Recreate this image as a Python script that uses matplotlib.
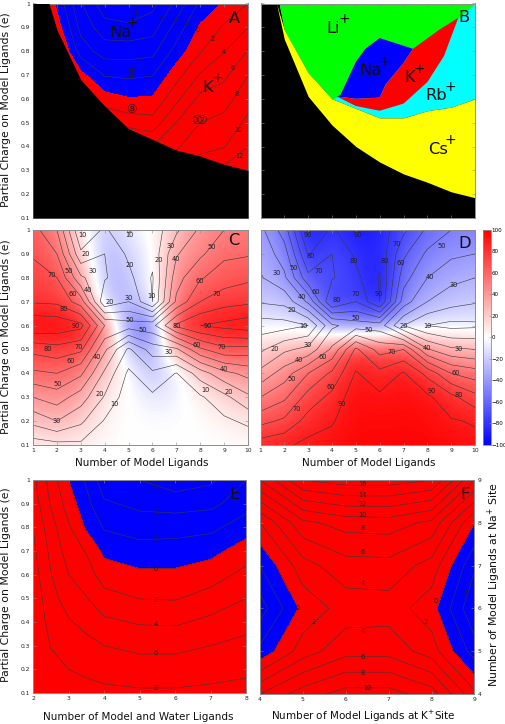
import numpy as np
import matplotlib
matplotlib.use('Agg')
import matplotlib.pyplot as plt

plt.rcParams['font.family'] = ['DejaVu Sans']
plt.rcParams['mathtext.default'] = 'regular'

W, H = 506, 724

ligands = [1, 2, 3, 4, 5, 6, 7, 8, 9, 10]
charges = [0.1, 0.2, 0.3, 0.4, 0.5, 0.6, 0.7, 0.8, 0.9, 1.0]
total_ticks = [2, 3, 4, 5, 6, 7, 8]
total_ligands = [2, 2.5, 3, 3.5, 4, 5, 6, 7, 8]
k_site = [4, 5, 6, 7, 8, 9]
na_site = [4, 5, 6, 7, 8, 9]

# panel A, free energy (rows = charge, columns = ligands)
a_vals = [
    [8, 9, 10, 11, 12, 13, 14, 16, 18, 18],
    [8, 9, 10, 11, 11, 11, 12, 14, 15, 16],
    [8, 9, 10, 10, 10, 10, 10, 11, 12.5, 14],
    [8, 9, 10, 9, 7, 6, 7.7, 9.5, 9.9, 12],
    [8, 9, 8, 4, 3.2, 2.8, 6, 8, 8.6, 10.5],
    [8, 8, 3.5, 0.9, 0.15, 0.25, 3.5, 6.6, 7.2, 9.2],
    [8, 6, 0.6, -2.15, -2.4, -2.1, 1.2, 4.2, 5.5, 8],
    [7, 3, -3, -4.9, -4.9, -4.6, -1.25, 1.85, 3.9, 6.1],
    [6, 1, -4.6, -7.2, -7.5, -6.9, -3.2, 0.3, 2.3, 4],
    [5, -0.5, -5.8, -9.3, -10, -8.6, -5.5, -1.6, 0.2, 2],
]
a_edge_x = [1, 1.67, 2, 3, 4, 5, 6, 7, 8, 9, 10]
a_edge_y = [1.0, 1.0, 0.89, 0.68, 0.57, 0.475, 0.43, 0.385, 0.36, 0.325, 0.30]
a_levels = [-8, -6, -4, -2, 2, 4, 6, 8, 10, 12]

# panel B, regions of selectivity
b_edge_x = [1, 1.67, 2, 3, 4, 5, 6, 7, 8, 9, 10]
b_edge_y = [1.0, 1.0, 0.85, 0.61, 0.49, 0.40, 0.335, 0.285, 0.25, 0.21, 0.185]
cs_x = [1, 1.78, 2, 3, 4, 5, 6, 7, 8, 9, 10]
cs_y = [1.0, 1.0, 0.89, 0.71, 0.60, 0.56, 0.52, 0.52, 0.55, 0.565, 0.60]
li_x = [1.78, 2, 3, 4, 4.35, 5, 5.4, 6, 7.4, 8.5, 9.3, 10]
li_y = [1.0, 0.89, 0.71, 0.60, 0.615, 0.755, 0.81, 0.855, 0.81, 0.89, 0.94, 1.0]
na_x = [4.35, 5, 5.4, 6, 7.4, 7, 6.25, 6, 5, 4.2]
na_y = [0.615, 0.755, 0.81, 0.855, 0.81, 0.75, 0.66, 0.605, 0.60, 0.61]
k_x = [4.2, 5, 6, 6.25, 7, 7.4, 8.5, 9.3, 8.7, 8, 7, 6, 5]
k_y = [0.61, 0.60, 0.605, 0.66, 0.75, 0.81, 0.89, 0.94, 0.78, 0.67, 0.58, 0.55, 0.57]

# panel C, colour values and contour values
c_colour = [
    [6, 8, 5, 2, 0, 0, 0, 0, 0, 2],
    [23, 30, 20, 5, 0, -1, -1, 1, 6, 10],
    [40, 45, 34, 8, 1, -10, -5, 6, 15, 25],
    [58, 60, 52, 20, 0, -25, -8, 22, 37, 43],
    [73, 76, 72, 38, -20, -40, 35, 58, 67, 66],
    [98, 97, 93, 58, -55, -55, 80, 90, 93, 96],
    [79, 78, 60, -22, -30, -10, 52, 70, 76, 78],
    [74, 70, 40, -30, -23, -3, 45, 59, 65, 68],
    [69, 60, 20, -30, -18, -3, 38, 48, 58, 59],
    [64, 50, 8, -24, -8, 2, 25, 42, 50, 52],
]
c_lines = [
    [5, 7, 8, 5, 2, 2, 1, 1, 1, 3],
    [23, 30, 22, 9, 3, 4, 3, 3, 8, 12],
    [40, 45, 35, 19, 4, 8, 7, 8.5, 17, 28],
    [58, 60, 52, 28, 8, 18, 9.5, 25, 37, 43],
    [73, 76, 72, 42, 18, 35, 38, 58, 67, 66],
    [98, 97, 93, 60, 55, 57, 82, 90, 93, 96],
    [79, 78, 65, 22, 30, 10, 52, 70, 76, 78],
    [74, 70, 42, 31, 23, 9, 46, 59, 65, 68],
    [69, 60, 22, 30, 18, 13, 39, 48, 58, 59],
    [64, 50, 10, 22, 9, 14, 28, 42, 50, 52],
]

# panel D, contour values, colour takes the sign of the charge region
d_lines = [
    [85, 88, 93, 94, 98, 98, 98, 98, 96, 93],
    [67, 72, 84, 89, 97, 96, 97, 96, 91, 89],
    [50, 58, 74, 83, 96, 92, 95, 92, 83, 73],
    [33, 45, 60, 72, 91, 83, 91, 77, 60, 55],
    [18, 28, 33, 52, 82, 66, 70, 41, 32, 30],
    [5, 6, 10, 38, 45, 45, 20, 10, 7, 8],
    [21, 23, 42, 80, 70, 90, 45, 30, 24, 21],
    [29, 38, 67, 69, 77, 91, 54, 40, 33, 30],
    [33, 45, 81, 70, 82, 87, 62, 48, 42, 40],
    [37, 55, 92, 78, 91, 86, 72, 58, 50, 49],
]

# panel E (rows = charge, columns = total ligands)
e_vals = [
    [12, 9.6, 9, 8.7, 8.5, 8.3, 8.3, 8.5, 8.7],
    [11, 8.8, 8, 7.6, 7.2, 6.9, 6.9, 7.2, 7.6],
    [10.3, 7.9, 7.1, 6.6, 6, 5.5, 5.5, 6, 6.6],
    [9.8, 7.2, 6.2, 5.4, 4.4, 3.8, 3.7, 4.5, 5.3],
    [9.4, 6.7, 5.1, 4.1, 2.7, 1.95, 1.85, 2.8, 4],
    [9, 6.1, 4, 2.95, 1.1, 0.4, 0.4, 1.1, 2.6],
    [8.5, 5.5, 3.1, 1.85, -0.5, -1.2, -1.1, -0.6, 1],
    [8, 4.8, 2.3, -0.3, -2.2, -2.9, -2.8, -2.5, -0.9],
    [7.2, 3.8, 1.1, -1.4, -3.7, -4.5, -4.8, -4.5, -2.8],
    [6.5, 3.2, 0, -2.3, -5.2, -6, -7.2, -6.4, -4],
]
e_levels = [-6, -4, -2, 0, 2, 4, 6, 8]

# panel F (rows = Na site, columns = K site)
f_vals = [
    [6, 9, 10.8, 10.8, 9, 2.5],
    [-1.5, 3, 5.3, 5.3, 3, -3],
    [-5, 0.6, 2.9, 3.07, 0.85, -5.8],
    [-2, 3.2, 5.2, 5.3, 3.2, -3.7],
    [2, 7.5, 8.8, 9, 7.5, 0],
    [10, 16, 17, 17, 16, 8],
]
f_levels = [-4, -2, 0, 2, 4, 6, 8, 10, 12, 14, 16]

cbar_ticks = [-100, -80, -60, -40, -20, 0, 20, 40, 60, 80, 100]

a_labels = [(5.28, .96, '8'), (6.37, .94, '6'), (6.96, .93, '4'), (7.42, .92, '2'),
            (7.9, .89, '0'), (8.5, .85, '2'), (9.0, .795, '4'), (9.36, .73, '6'),
            (9.53, .62, '8'), (9.6, .47, '10'), (9.65, .36, '12')]
c_labels = [(3.05, .98, '10'), (5.05, .98, '10'), (6.75, .935, '30'), (8.5, .93, '50'),
            (3.2, .9, '20'), (7, .88, '40'), (5.05, .855, '20'), (6.25, .875, '20'),
            (1.8, .81, '70'), (2.5, .83, '50'), (3.5, .83, '30'), (8, .785, '60'),
            (2.65, .73, '60'), (3.3, .75, '40'), (8.7, .73, '70'), (4.2, .7, '20'),
            (5, .715, '30'), (5.95, .725, '10'), (2.3, .67, '80'), (2.8, .6, '90'),
            (5.05, .625, '50'), (7, .6, '80'), (8.3, .6, '90'), (5.6, .58, '50'),
            (7.87, .52, '60'), (1.6, .5, '80'), (2.9, .51, '70'), (8.9, .51, '70'),
            (6.7, .49, '30'), (2.6, .45, '60'), (3.67, .47, '40'), (9, .42, '40'),
            (2.05, .355, '50'), (8.2, .33, '10'), (9.2, .32, '20'), (3.8, .315, '20'),
            (4.4, .27, '10'), (2, .2, '30')]
d_labels = [(3, .98, '90'), (5.1, .98, '90'), (6.7, .94, '70'), (8.6, .935, '50'),
            (3.1, .89, '80'), (4.9, .87, '80'), (6.2, .87, '80'), (6.9, .86, '60'),
            (2.4, .84, '50'), (1.7, .82, '30'), (3.45, .83, '70'), (8.1, .805, '40'),
            (9.1, .77, '30'), (3.3, .74, '60'), (2.75, .72, '40'), (4.2, .705, '80'),
            (5, .73, '70'), (5.95, .73, '90'), (2.3, .665, '20'), (2.8, .6, '10'),
            (5, .63, '50'), (7, .6, '20'), (8, .6, '10'), (5.55, .58, '50'),
            (3, .52, '30'), (6.5, .49, '70'), (8, .507, '40'), (9.3, .5, '30'),
            (1.6, .5, '20'), (3.6, .47, '60'), (2.6, .457, '40'), (9.2, .4, '60'),
            (2.3, .375, '50'), (3.95, .343, '60'), (8.2, .327, '90'), (9.3, .31, '80'),
            (2.5, .252, '70'), (4.4, .27, '90')]
e_labels = [(5.45, .97, '6'), (5.45, .86, '4'), (5.45, .75, '2'), (5.45, .625, '0'),
            (5.45, .495, '2'), (5.45, .39, '4'), (5.45, .27, '6'), (5.45, .12, '8')]
f_labels = [(6.4, 8.9, '16'), (6.4, 8.66, '14'), (6.4, 8.43, '12'), (6.4, 8.18, '10'),
            (6.4, 7.87, '8'), (6.4, 7.32, '6'), (6.4, 6.6, '4'), (6.4, 5.47, '4'),
            (6.4, 4.87, '6'), (6.4, 4.5, '8'), (6.5, 4.14, '10'), (4.45, 6, '2'),
            (4.88, 6, '0'), (5.25, 5.68, '2'), (7.85, 5.68, '2'), (8.1, 6.18, '0'),
            (8.55, 5.55, '2'), (8.8, 6.35, '4')]

BLUE = '#0000ff'
RED = '#ff0000'
LINE = '#383838'
EDGE = '#8c8c8c'
LW = 0.4


def panel(left, top, right, bottom):
    ax = fig.add_axes([left / W, 1 - bottom / H, (right - left) / W, (bottom - top) / H])
    for s in ax.spines.values():
        s.set_color(EDGE)
        s.set_linewidth(0.7)
    ax.tick_params(direction='in', length=2, width=0.4, color=EDGE, labelsize=4.3,
                   pad=2, top=True, right=True, labelcolor='#222222')
    return ax


def marks(ax, labels, size=4.8):
    for x, y, s in labels:
        ax.text(x, y, s, fontsize=size, ha='center', va='center', color='#202020')


def charge_ticks(ax, numbers=True):
    ax.set_yticks(charges)
    if numbers:
        ax.set_yticklabels(['%g' % c for c in charges])
    else:
        ax.set_yticklabels([])


def letter(ax, x, y, s):
    ax.text(x, y, s, fontsize=11.7, ha='center', va='center', color='#101010')


# ion name ends at x, its plus sign sits up and to the right
def ion(ax, x, y, s, dx=2.5):
    ax.text(x, y, s, fontsize=11.7, ha='right', va='center', color='#101010')
    ax.annotate('+', (x, y), xytext=(dx, 6.5), textcoords='offset points', fontsize=10,
                ha='center', va='center', color='#101010')


def smooth(ax, values):
    return ax.imshow(values, cmap='bwr', vmin=-100, vmax=100, origin='lower', aspect='auto',
                     interpolation='bicubic', extent=(0.5, 10.5, 0.05, 1.05))


fig = plt.figure(figsize=(W / 100, H / 100), dpi=100)
lig_x, q_y = np.meshgrid(ligands, charges)

# A
ax = panel(33, 3.5, 248, 218)
ax.contourf(lig_x, q_y, a_vals, levels=[-100, 0, 100], colors=[BLUE, RED])
ax.contour(lig_x, q_y, a_vals, levels=a_levels, colors=LINE, linewidths=LW, linestyles='solid')
ax.fill_between(a_edge_x, a_edge_y, 0.1, color='black', lw=0, zorder=3)
ax.set_xlim(1, 10)
ax.set_ylim(0.1, 1)
ax.set_xticks(ligands)
ax.set_xticklabels([])
charge_ticks(ax)
marks(ax, a_labels)
ax.text(5.07, .705, '②', fontsize=8.5, ha='center', va='center', color='#202020')
ax.text(5.1, .557, '⑧', fontsize=8.5, ha='center', va='center', color='#202020')
ax.text(7.85, .51, '①', fontsize=8.5, ha='center', va='center', color='#202020')
ax.text(8.06, .51, '⑦', fontsize=8.5, ha='center', va='center', color='#202020')
ion(ax, 5.13, .879, 'Na', 0.8)
ion(ax, 8.55, .648, 'K')
letter(ax, 9.45, .939, 'A')

# B
ax = panel(260.5, 3.5, 475, 218)
ax.set_facecolor('black')
ax.fill_between(cs_x, cs_y, 1, color='#00ffff', lw=0)
ax.fill_between(b_edge_x, b_edge_y, cs_y, color='#ffff00', lw=0)
ax.fill_between(li_x, li_y, 1, color='#00ff00', lw=0)
ax.fill(na_x, na_y, color=BLUE, lw=0)
ax.fill(k_x, k_y, color=RED, lw=0)
ax.set_xlim(1, 10)
ax.set_ylim(0.1, 1)
ax.set_xticks(ligands)
ax.set_xticklabels([])
charge_ticks(ax, False)
ion(ax, 4.35, .896, 'Li')
ion(ax, 6.07, .718, 'Na')
ion(ax, 7.5, .689, 'K')
ion(ax, 8.83, .612, 'Rb')
ion(ax, 8.87, .388, 'Cs', 1.5)
letter(ax, 9.53, .943, 'B')

# C
ax = panel(33, 230, 248, 445)
smooth(ax, np.array(c_colour, dtype=float))
ax.contour(lig_x, q_y, c_lines, levels=np.arange(10, 100, 10), colors=LINE, linewidths=LW,
           linestyles='solid')
ax.set_xlim(1, 10)
ax.set_ylim(0.1, 1)
ax.set_xticks(ligands)
charge_ticks(ax)
marks(ax, c_labels)
letter(ax, 9.42, .954, 'C')

# D
ax = panel(260.5, 230, 475, 445)
d_arr = np.array(d_lines, dtype=float)
d_colour = np.where(q_y >= 0.6, -d_arr, d_arr)
mesh = smooth(ax, d_colour)
ax.contour(lig_x, q_y, d_arr, levels=np.arange(10, 100, 10), colors=LINE, linewidths=LW,
           linestyles='solid')
ax.set_xlim(1, 10)
ax.set_ylim(0.1, 1)
ax.set_xticks(ligands)
charge_ticks(ax, False)
marks(ax, d_labels)
letter(ax, 9.58, .945, 'D')

cax = fig.add_axes([483.5 / W, 1 - 445 / H, 7.5 / W, 215 / H])
cb = fig.colorbar(mesh, cax=cax, ticks=cbar_ticks)
cb.outline.set_edgecolor(EDGE)
cb.outline.set_linewidth(0.6)
cb.ax.tick_params(length=1.5, width=0.4, color=EDGE, labelsize=4.1, pad=0.5, direction='in')

# E
ax = panel(33, 480, 246.5, 693)
tot_x, tot_y = np.meshgrid(total_ligands, charges)
ax.contourf(tot_x, tot_y, e_vals, levels=[-100, 0, 100], colors=[BLUE, RED])
ax.contour(tot_x, tot_y, e_vals, levels=e_levels, colors=LINE, linewidths=LW, linestyles='solid')
ax.set_xlim(2, 8)
ax.set_ylim(0.1, 1)
ax.set_xticks(total_ticks)
charge_ticks(ax)
marks(ax, e_labels)
letter(ax, 7.67, .94, 'E')

# F
ax = panel(260, 480, 474.5, 694)
k_grid, na_grid = np.meshgrid(k_site, na_site)
ax.contourf(k_grid, na_grid, f_vals, levels=[-100, 0, 100], colors=[BLUE, RED])
ax.contour(k_grid, na_grid, f_vals, levels=f_levels, colors=LINE, linewidths=LW, linestyles='solid')
ax.set_xlim(4, 9)
ax.set_ylim(4, 9)
ax.set_xticks(k_site)
ax.set_yticks(na_site)
ax.tick_params(labelleft=False, labelright=True)
marks(ax, f_labels)
letter(ax, 8.77, 8.67, 'F')

# axis titles
ylab = 'Partial Charge on Model Ligands (e)'
for y in (110, 337, 585):
    fig.text(6 / W, 1 - y / H, ylab, rotation=90, fontsize=7.8, ha='center', va='center', color='#111111')
fig.text(142 / W, 1 - 463 / H, 'Number of Model Ligands', fontsize=7.5, ha='center', va='center', color='#111111')
fig.text(369 / W, 1 - 463 / H, 'Number of Model Ligands', fontsize=7.5, ha='center', va='center', color='#111111')
fig.text(138 / W, 1 - 717 / H, 'Number of Model and Water Ligands', fontsize=7.5, ha='center', va='center', color='#111111')
fig.text(363 / W, 1 - 716 / H, 'Number of Model Ligands at K$^{+}$Site', fontsize=7.5, ha='center', va='center', color='#111111')
fig.text(494 / W, 1 - 585 / H, 'Number of Model Ligands at Na$^{+}$ Site', rotation=90, fontsize=7.8,
         ha='center', va='center', color='#111111')

fig.savefig('out.png', dpi=100)
